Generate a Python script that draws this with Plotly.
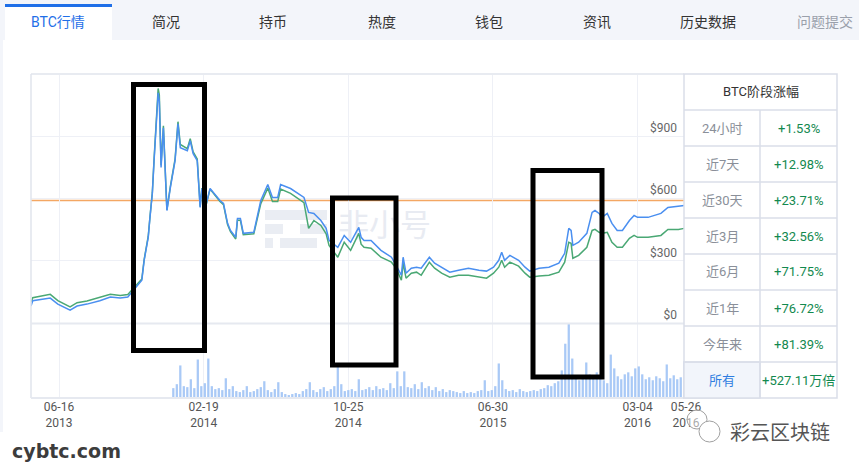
import plotly.graph_objects as go
import pandas as pd

W, H = 859, 468


def px(x):
    return x / W


def py(y):
    return (H - y) / H


# ---------------- data ----------------
dates = [
    "2013-04-29", "2013-05-02", "2013-06-01", "2013-06-14", "2013-07-05", "2013-07-17", "2013-08-03",
    "2013-08-25", "2013-09-12", "2013-09-29", "2013-10-12", "2013-10-24", "2013-11-05", "2013-11-09",
    "2013-11-16", "2013-11-19", "2013-11-23", "2013-11-26", "2013-12-01", "2013-12-03", "2013-12-05",
    "2013-12-08", "2013-12-12", "2013-12-18", "2013-12-24", "2014-01-01", "2014-01-06", "2014-01-10",
    "2014-01-22", "2014-01-27", "2014-02-01", "2014-02-08", "2014-02-13", "2014-02-16", "2014-02-22",
    "2014-03-02", "2014-03-19", "2014-03-25", "2014-04-01", "2014-04-06", "2014-04-15", "2014-04-18",
    "2014-04-23", "2014-04-28", "2014-05-16", "2014-05-28", "2014-06-09", "2014-06-17", "2014-06-26",
    "2014-07-01", "2014-07-18", "2014-08-05", "2014-08-10", "2014-08-18", "2014-08-27", "2014-09-08",
    "2014-09-17", "2014-09-22", "2014-10-07", "2014-10-18", "2014-10-29", "2014-11-12", "2014-11-16",
    "2014-11-21", "2014-12-03", "2014-12-20", "2015-01-07", "2015-01-15", "2015-01-24", "2015-01-27",
    "2015-02-01", "2015-02-10", "2015-02-19", "2015-02-27", "2015-03-13", "2015-03-22", "2015-04-03",
    "2015-04-17", "2015-05-02", "2015-05-19", "2015-06-06", "2015-06-19", "2015-07-01", "2015-07-10",
    "2015-07-15", "2015-07-20", "2015-07-29", "2015-08-13", "2015-08-24", "2015-09-01", "2015-09-17",
    "2015-10-04", "2015-10-21", "2015-10-31", "2015-11-07", "2015-11-11", "2015-11-14", "2015-11-24",
    "2015-12-08", "2015-12-17", "2015-12-22", "2015-12-29", "2016-01-03", "2016-01-12", "2016-01-20",
    "2016-01-29", "2016-02-07", "2016-02-19", "2016-02-27", "2016-03-04", "2016-03-22", "2016-04-13",
    "2016-04-25", "2016-05-13", "2016-05-23",
]

price_blue = [
    82, 107, 120, 91, 62, 82, 91, 107, 125, 120,
    125, 168, 206, 302, 413, 509, 624, 782, 1022, 1109,
    1070, 749, 941, 542, 653, 782, 960, 845, 830, 878,
    816, 782, 557, 648, 557, 648, 590, 576, 480, 446,
    413, 504, 504, 432, 437, 590, 667, 605, 605, 667,
    648, 614, 605, 533, 528, 494, 456, 398, 365, 422,
    389, 461, 413, 398, 398, 350, 317, 278, 230, 317,
    240, 264, 269, 264, 317, 288, 269, 245, 254, 264,
    254, 250, 269, 302, 341, 302, 326, 302, 269, 250,
    264, 269, 288, 336, 456, 446, 374, 389, 432, 533,
    542, 528, 509, 528, 480, 446, 446, 494, 518, 509,
    509, 528, 557, 562, 566,
]

price_green = [
    100, 122, 138, 108, 78, 98, 106, 122, 138, 133,
    137, 175, 212, 306, 418, 512, 628, 790, 1040, 1130,
    1100, 760, 950, 545, 660, 790, 970, 860, 840, 888,
    825, 790, 560, 650, 555, 645, 585, 570, 475, 440,
    405, 495, 495, 425, 430, 575, 650, 585, 585, 645,
    625, 590, 580, 456, 494, 470, 430, 374, 317, 389,
    350, 432, 380, 365, 360, 317, 293, 264, 206, 288,
    216, 240, 245, 230, 293, 264, 240, 221, 230, 230,
    221, 216, 240, 269, 302, 269, 293, 274, 240, 221,
    226, 230, 245, 293, 389, 384, 312, 326, 365, 446,
    451, 437, 432, 437, 389, 365, 365, 408, 422, 413,
    413, 422, 451, 451, 456,
]

volume_start = "2013-12-29"
volume = [
    10, 14, 33, 12, 11, 19, 10, 39, 12, 15,
    40, 12, 9, 10, 8, 20, 9, 12, 7, 6,
    8, 12, 6, 7, 9, 11, 17, 8, 6, 9,
    16, 6, 4, 3, 4, 5, 4, 7, 9, 16,
    8, 6, 9, 11, 7, 9, 12, 33, 14, 7,
    8, 9, 7, 19, 8, 9, 11, 8, 12, 9,
    10, 8, 15, 10, 27, 12, 27, 11, 10, 14,
    9, 16, 10, 12, 8, 11, 7, 9, 6, 8,
    7, 6, 5, 7, 5, 6, 5, 7, 8, 18,
    7, 8, 12, 35, 18, 9, 7, 8, 6, 9,
    7, 6, 7, 8, 7, 9, 10, 13, 12, 15,
    17, 28, 55, 75, 40, 22, 18, 20, 36, 24,
    22, 26, 20, 18, 15, 44, 30, 22, 19, 24,
    26, 22, 30, 32, 24, 19, 21, 18, 22, 20,
    17, 34, 20, 23, 19, 21, 37,
]

current_price = 590

x_tick_dates = ["2013-06-16", "2014-02-19", "2014-10-25", "2015-06-30", "2016-03-04", "2016-05-26"]
x_tick_labels = ["06-16<br>2013", "02-19<br>2014", "10-25<br>2014", "06-30<br>2015",
                 "03-04<br>2016", "05-26<br>2016"]
y_tick_values = [0, 300, 600, 900]
y_tick_labels = ["$0", "$300", "$600", "$900"]

table_title = "BTC阶段涨幅"
periods = ["24小时", "近7天", "近30天", "近3月", "近6月", "近1年", "今年来", "所有"]
changes = ["+1.53%", "+12.98%", "+23.71%", "+32.56%", "+71.75%", "+76.72%", "+81.39%", "+527.11万倍"]

tabs = ["BTC行情", "简况", "持币", "热度", "钱包", "资讯", "历史数据", "问题提交"]

# ---------------- layout constants ----------------
tab_centers = [58, 166, 273, 382, 489, 597, 708, 825]
FONT = "Roboto, 'Noto Sans CJK SC', sans-serif"
CJK = "'Noto Sans CJK SC', sans-serif"

vol_dates = pd.date_range(volume_start, periods=len(volume), freq="6D")

fig = go.Figure()

# faint watermark behind the lines
fig.add_trace(go.Scatter(
    x=["2014-12-26"], y=[455], mode="text", text=["非小号"],
    textfont=dict(family=CJK, size=31, color="#e8ebf2"),
    hoverinfo="skip", showlegend=False, xaxis="x", yaxis="y",
))
fig.add_trace(go.Scatter(
    x=dates, y=price_green, mode="lines", line=dict(color="#4aa874", width=1.5),
    hoverinfo="skip", showlegend=False, xaxis="x", yaxis="y",
))
fig.add_trace(go.Scatter(
    x=dates, y=price_blue, mode="lines", line=dict(color="#4a8ff0", width=1.5),
    hoverinfo="skip", showlegend=False, xaxis="x", yaxis="y",
))
fig.add_trace(go.Bar(
    x=vol_dates, y=volume, marker=dict(color="#a9c9f6", line=dict(width=0)),
    hoverinfo="skip", showlegend=False, xaxis="x2", yaxis="y2",
))

shapes = []
annotations = []


def label(text, x, y, size, color, family=FONT, xanchor="center"):
    annotations.append(dict(text=text, x=px(x), y=py(y), xref="paper", yref="paper", showarrow=False,
                            xanchor=xanchor, yanchor="middle",
                            font=dict(family=family, size=size, color=color)))


# page background bits
shapes.append(dict(type="rect", xref="paper", yref="paper", x0=px(0), x1=px(859), y0=py(40), y1=py(0),
                   fillcolor="#f3f5fa", line=dict(width=0), layer="below"))
shapes.append(dict(type="rect", xref="paper", yref="paper", x0=px(0), x1=px(3), y0=py(432), y1=py(40),
                   fillcolor="#f3f5fa", line=dict(width=0), layer="below"))
shapes.append(dict(type="rect", xref="paper", yref="paper", x0=px(5), x1=px(112), y0=py(40), y1=py(4),
                   fillcolor="#ffffff", line=dict(width=0), layer="below"))
shapes.append(dict(type="rect", xref="paper", yref="paper", x0=px(5), x1=px(112), y0=py(7), y1=py(4),
                   fillcolor="#1f6fe8", line=dict(width=0), layer="below"))

for i, (t, cx) in enumerate(zip(tabs, tab_centers)):
    color = "#1f6fe8" if i == 0 else ("#9aa0ab" if i == len(tabs) - 1 else "#333333")
    label(t, cx, 22, 14, color)

# watermark icon pills
pill = "#eaedf3"
for (x0, x1, y0, y1) in [(265, 327, 210, 220), (265, 283, 224, 234), (300, 327, 224, 234),
                         (265, 273, 238, 248), (280, 317, 238, 248)]:
    shapes.append(dict(type="rect", xref="paper", yref="paper", x0=px(x0), x1=px(x1), y0=py(y1), y1=py(y0),
                       fillcolor=pill, line=dict(width=0), layer="below"))

# reference price line
shapes.append(dict(type="line", xref="x domain", yref="y", x0=0, x1=1, y0=current_price, y1=current_price,
                   line=dict(color="#f4a763", width=1.5), layer="below"))

# chart frame lines
border = "#e1e4ed"
shapes.append(dict(type="line", xref="paper", yref="paper", x0=px(31), x1=px(684), y0=py(74), y1=py(74),
                   line=dict(color=border, width=1.5), layer="above"))
shapes.append(dict(type="line", xref="paper", yref="paper", x0=px(31), x1=px(31), y0=py(398), y1=py(74),
                   line=dict(color=border, width=1.5), layer="above"))
shapes.append(dict(type="line", xref="paper", yref="paper", x0=px(31), x1=px(684), y0=py(323.5), y1=py(323.5),
                   line=dict(color="#e6e9f0", width=2), layer="above"))
shapes.append(dict(type="line", xref="paper", yref="paper", x0=px(31), x1=px(684), y0=py(398), y1=py(398),
                   line=dict(color="#e6e9f0", width=2), layer="above"))

# table
tl, tm, tr, tt, tb = 684, 760, 837, 74, 398
tcol = "#dadee9"
shapes.append(dict(type="rect", xref="paper", yref="paper", x0=px(tl), x1=px(tr), y0=py(tb), y1=py(tt),
                   fillcolor="#ffffff", line=dict(color=tcol, width=1.5), layer="above"))
shapes.append(dict(type="rect", xref="paper", yref="paper", x0=px(tl), x1=px(tm), y0=py(tb), y1=py(362),
                   fillcolor="#f2f5fb", line=dict(color=tcol, width=1.5), layer="above"))
for k in range(8):
    yy = 110 + 36 * k
    shapes.append(dict(type="line", xref="paper", yref="paper", x0=px(tl), x1=px(tr), y0=py(yy), y1=py(yy),
                       line=dict(color=tcol, width=1.5), layer="above"))
shapes.append(dict(type="line", xref="paper", yref="paper", x0=px(tm), x1=px(tm), y0=py(tb), y1=py(110),
                   line=dict(color=tcol, width=1.5), layer="above"))
label(table_title, (tl + tr) / 2, 92, 13, "#333333")
for k, (p, c) in enumerate(zip(periods, changes)):
    yy = 128 + 36 * k
    last = k == len(periods) - 1
    label(p, (tl + tm) / 2, yy, 13, "#2f7de1" if last else "#8a8f99")
    label(c, (tm + tr) / 2, yy, 13, "#13894f")

# hand-drawn black boxes
for (x0, x1, y0, y1) in [(133.5, 204.5, 84.5, 350.5), (332.5, 396, 198, 365), (533, 602, 170.5, 377)]:
    shapes.append(dict(type="rect", xref="paper", yref="paper", x0=px(x0), x1=px(x1), y0=py(y1), y1=py(y0),
                       line=dict(color="#000000", width=5), fillcolor="rgba(0,0,0,0)", layer="above"))

# bottom watermark texts
label("<b>cybtc.com</b>", 10, 451, 19, "#3c3c3c", family="DejaVu Sans", xanchor="left")
shapes.append(dict(type="circle", xref="paper", yref="paper", x0=px(687), x1=px(707), y0=py(429), y1=py(410),
                   line=dict(color="#a0a0a0", width=1), fillcolor="rgba(255,255,255,0.5)", layer="above"))
shapes.append(dict(type="circle", xref="paper", yref="paper", x0=px(699), x1=px(720), y0=py(442), y1=py(421),
                   line=dict(color="#a0a0a0", width=1), fillcolor="#ffffff", layer="above"))
label("彩云区块链", 780, 431, 20, "#555555", family=CJK)

fig.update_layout(
    width=W, height=H, autosize=False, margin=dict(l=0, r=0, t=0, b=0, autoexpand=False),
    paper_bgcolor="#ffffff", plot_bgcolor="rgba(0,0,0,0)",
    showlegend=False, bargap=0.35,
    shapes=shapes, annotations=annotations,
    xaxis=dict(domain=[px(31), px(686)], anchor="y", type="date",
               range=["2013-04-29", "2016-05-26"], automargin=False,
               tickvals=x_tick_dates, showticklabels=False, ticks="",
               showgrid=True, gridcolor="#eef0f6", gridwidth=1, zeroline=False, showline=False),
    yaxis=dict(domain=[py(323), py(75)], anchor="x", side="right", range=[0, 1195], automargin=False,
               tickvals=y_tick_values, ticktext=y_tick_labels, ticklabelposition="inside top",
               ticks="", showgrid=True, gridcolor="#eef0f6", zeroline=False, showline=False,
               tickfont=dict(family=FONT, size=12, color="#666666"), ticklabelstandoff=6),
    xaxis2=dict(domain=[px(31), px(686)], anchor="y2", matches="x", type="date", automargin=False,
                tickvals=x_tick_dates, ticktext=x_tick_labels, ticks="",
                showgrid=True, gridcolor="#eef0f6", zeroline=False, showline=False,
                tickfont=dict(family=FONT, size=12, color="#555555")),
    yaxis2=dict(domain=[py(398), py(323)], anchor="x2", range=[0, 76], automargin=False,
                showticklabels=False, showgrid=False, zeroline=False, showline=False),
)

fig.write_html(
    "out.html",
    config={"displayModeBar": False, "responsive": False},
    post_script=("document.documentElement.style.overflow='hidden';"
                 "document.body.style.margin='0';document.body.style.padding='0';"
                 "document.body.style.overflow='hidden';"),
)
